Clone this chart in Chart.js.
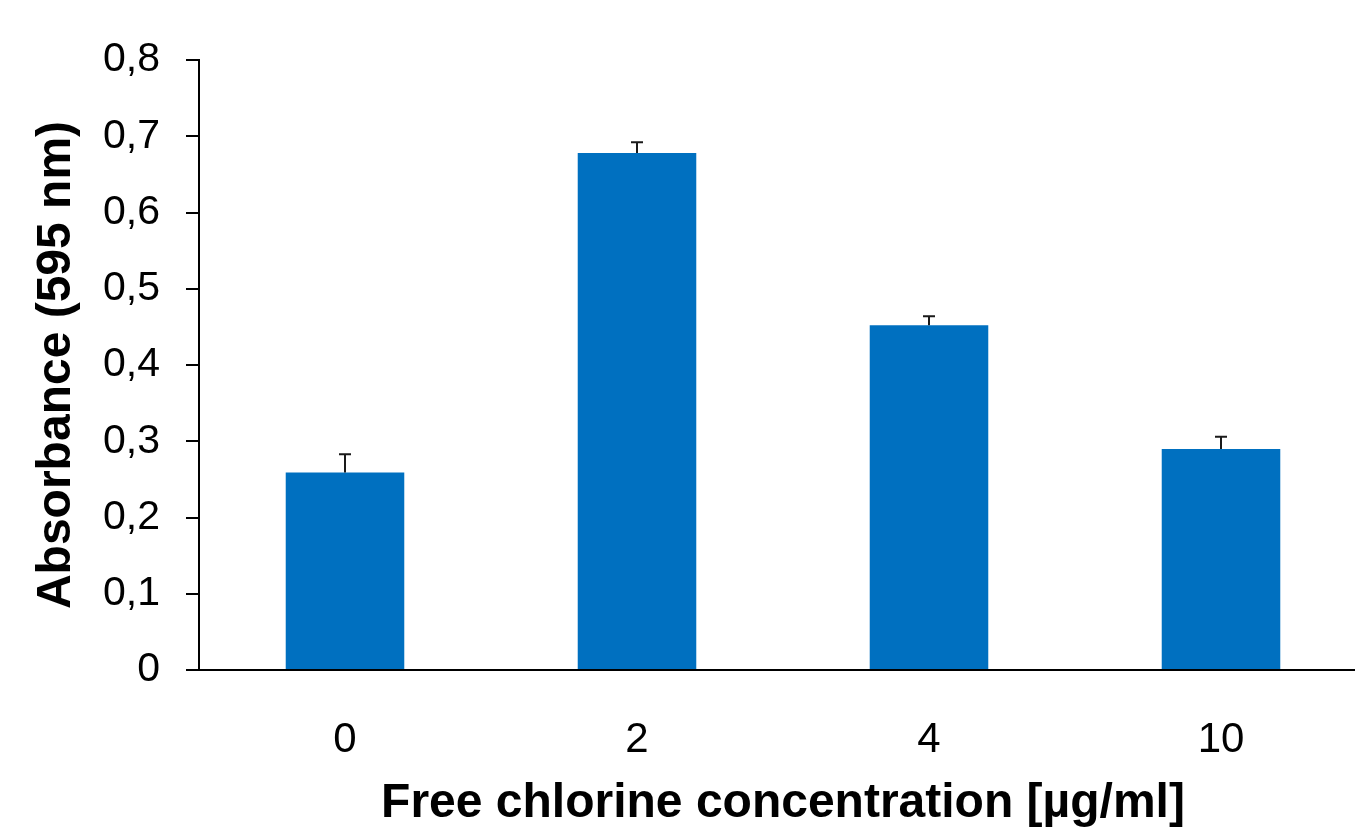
<!DOCTYPE html>
<html>
<head>
<meta charset="utf-8">
<script src="https://cdn.jsdelivr.net/npm/chart.js@4"></script>
<style>
  html, body { margin: 0; padding: 0; background: #fff; overflow: hidden; width: 1355px; height: 837px; }
  #wrap { position: absolute; left: 0; top: 0; width: 1370px; height: 837px; }
</style>
</head>
<body>
<div id="wrap"><canvas id="c" width="1370" height="837"></canvas></div>
<script>
const categories = ['0', '2', '4', '10'];
const absorbance = [0.259, 0.678, 0.452, 0.290];
const errorsPlus = [0.024, 0.014, 0.012, 0.016];
const yTickLabels = ['0', '0,1', '0,2', '0,3', '0,4', '0,5', '0,6', '0,7', '0,8'];
const xTitle = 'Free chlorine concentration [µg/ml]';
const yTitle = 'Absorbance (595 nm)';

const FONT = '"Liberation Sans", Arial, Helvetica, sans-serif';

const errorBarPlugin = {
  id: 'errorBars',
  afterDatasetsDraw(chart) {
    const ctx = chart.ctx;
    const yScale = chart.scales.y;
    const meta = chart.getDatasetMeta(0);
    ctx.save();
    ctx.strokeStyle = '#1a1a1a';
    ctx.lineWidth = 2;
    meta.data.forEach((bar, i) => {
      const x = bar.x;
      const yTop = yScale.getPixelForValue(absorbance[i] + errorsPlus[i]);
      const yBase = yScale.getPixelForValue(absorbance[i]);
      ctx.beginPath();
      ctx.moveTo(x, yBase);
      ctx.lineTo(x, yTop);
      ctx.moveTo(x - 6, yTop);
      ctx.lineTo(x + 6, yTop);
      ctx.stroke();
    });
    ctx.restore();
  }
};

new Chart(document.getElementById('c'), {
  type: 'bar',
  data: {
    labels: categories,
    datasets: [{
      data: absorbance,
      backgroundColor: '#0070C0',
      borderWidth: 0,
      barPercentage: 0.406,
      categoryPercentage: 1.0
    }]
  },
  options: {
    responsive: false,
    animation: false,
    devicePixelRatio: 1,
    layout: { padding: { top: 60, right: 3, left: 0, bottom: 0 } },
    plugins: { legend: { display: false }, tooltip: { enabled: false } },
    scales: {
      x: {
        grid: { display: false },
        border: { display: true, color: '#000', width: 2 },
        ticks: { color: '#000', font: { family: FONT, size: 42 }, padding: 37, maxRotation: 0 },
        title: { display: true, text: xTitle, color: '#000', font: { family: FONT, size: 48, weight: 'bold' }, padding: { top: 0, bottom: 4 } },
        afterFit(scale) { scale.height = 167; }
      },
      y: {
        min: 0, max: 0.8,
        ticks: {
          stepSize: 0.1,
          color: '#000',
          font: { family: FONT, size: 41 },
          padding: 26,
          callback: (v, i) => yTickLabels[i]
        },
        grid: { display: true, drawOnChartArea: false, drawTicks: true, tickLength: 13, color: '#000', lineWidth: 2 },
        border: { display: true, color: '#000', width: 2 },
        title: { display: true, text: yTitle, color: '#000', font: { family: FONT, size: 48, weight: 'bold' }, padding: { top: 28, bottom: 0 } },
        afterFit(scale) { scale.width = 199; }
      }
    }
  },
  plugins: [errorBarPlugin]
});
</script>
</body>
</html>
